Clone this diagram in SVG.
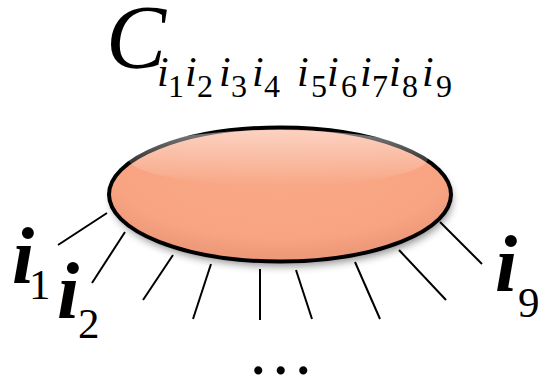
<svg xmlns="http://www.w3.org/2000/svg" width="544" height="377" viewBox="0 0 544 377">
<style>
.leg{stroke:#000;stroke-width:2;fill:none}
</style>
<defs>
<radialGradient id="fillG" cx="0.5" cy="0.35" r="0.6">
<stop offset="0" stop-color="#F9A886"/>
<stop offset="0.8" stop-color="#F8A483"/>
<stop offset="1" stop-color="#EE9A7A"/>
</radialGradient>
<linearGradient id="hl" x1="0" y1="0" x2="0" y2="1">
<stop offset="0" stop-color="#fff" stop-opacity="0.5"/>
<stop offset="1" stop-color="#fff" stop-opacity="0"/>
</linearGradient>
<filter id="sh" x="-10%" y="-20%" width="120%" height="150%">
<feGaussianBlur stdDeviation="4"/>
</filter>
</defs>
<g id="connectors">
<line class="leg" x1="107" y1="213" x2="58" y2="245"/>
<line class="leg" x1="125" y1="232" x2="92" y2="283"/>
<line class="leg" x1="173" y1="255" x2="143" y2="300"/>
<line class="leg" x1="211" y1="264" x2="193" y2="319"/>
<line class="leg" x1="260" y1="269" x2="260" y2="320"/>
<line class="leg" x1="296" y1="270" x2="312" y2="319"/>
<line class="leg" x1="355" y1="262" x2="380" y2="319"/>
<line class="leg" x1="399" y1="250" x2="446" y2="300"/>
<line class="leg" x1="440" y1="222" x2="482" y2="264"/>
</g>
<g id="blob">
<ellipse cx="282" cy="200" rx="170" ry="66" fill="#000" opacity="0.45" filter="url(#sh)"/>
<ellipse cx="280" cy="194.5" rx="171" ry="67" fill="url(#fillG)" stroke="#000" stroke-width="4"/>
<ellipse cx="278" cy="158" rx="150" ry="28" fill="url(#hl)"/>
</g>
<g id="label-C">
<text x="106" y="68" font-family="Liberation Serif" font-size="90" font-style="italic">C</text>
<text font-family="Liberation Serif" font-size="42"><tspan font-style="italic" x="157" y="86">i</tspan><tspan font-size="32" x="168" y="97">1</tspan><tspan font-style="italic" x="185" y="86">i</tspan><tspan font-size="32" x="197" y="97">2</tspan><tspan font-style="italic" x="219" y="86">i</tspan><tspan font-size="32" x="231" y="97">3</tspan><tspan font-style="italic" x="252" y="86">i</tspan><tspan font-size="32" x="264" y="97">4</tspan><tspan font-style="italic" x="297" y="86">i</tspan><tspan font-size="32" x="311" y="97">5</tspan><tspan font-style="italic" x="327" y="86">i</tspan><tspan font-size="32" x="341" y="97">6</tspan><tspan font-style="italic" x="360" y="86">i</tspan><tspan font-size="32" x="372" y="97">7</tspan><tspan font-style="italic" x="389" y="86">i</tspan><tspan font-size="32" x="402" y="97">8</tspan><tspan font-style="italic" x="422" y="86">i</tspan><tspan font-size="32" x="436" y="97">9</tspan></text>
</g>
<g id="label-i1">
<text x="12" y="283" font-family="Liberation Serif" font-size="80" font-style="italic" font-weight="bold">i</text>
<text x="29" y="299" font-family="Liberation Serif" font-size="43">1</text>
</g>
<g id="label-i2">
<text x="57" y="318" font-family="Liberation Serif" font-size="80" font-style="italic" font-weight="bold">i</text>
<text x="78" y="338" font-family="Liberation Serif" font-size="43">2</text>
</g>
<g id="label-i9">
<text x="495" y="291" font-family="Liberation Serif" font-size="80" font-style="italic" font-weight="bold">i</text>
<text x="518" y="317" font-family="Liberation Serif" font-size="43">9</text>
</g>
<g id="dots">
<text x="252" y="374" font-family="Liberation Serif" font-size="50" font-weight="bold" letter-spacing="10">...</text>
</g>
</svg>
